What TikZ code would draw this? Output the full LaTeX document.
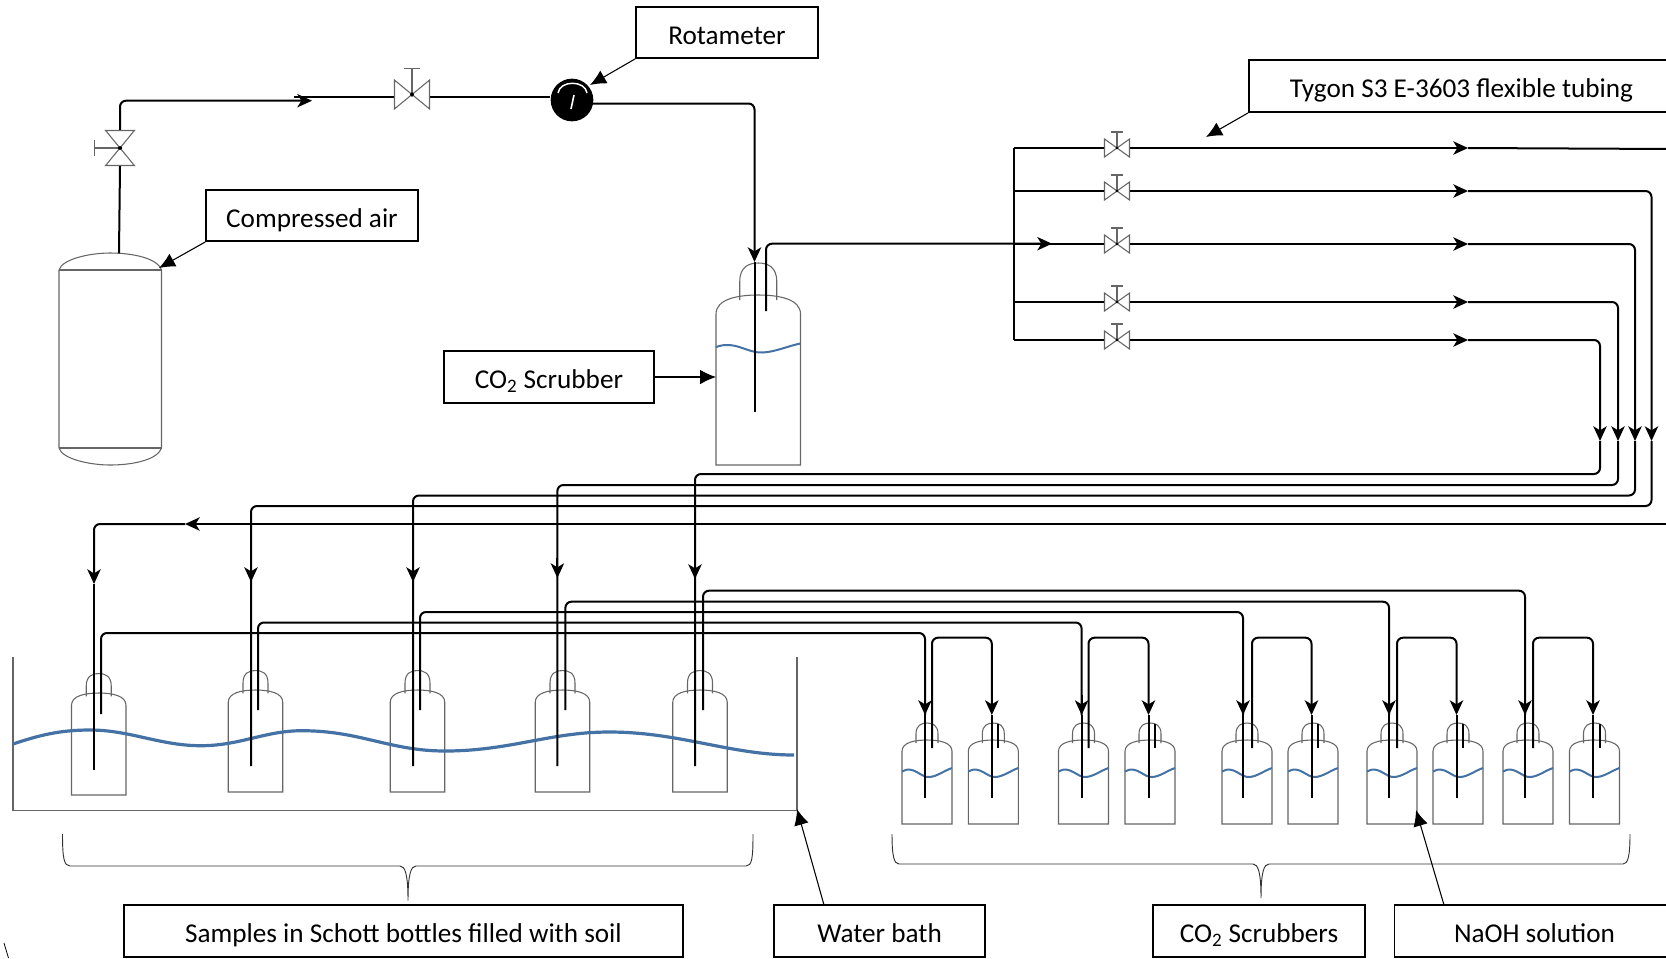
\documentclass[tikz,border=0pt]{standalone}
\usepackage{fontspec}
\setmainfont{Carlito}
\usetikzlibrary{arrows.meta}
\definecolor{waterblue}{RGB}{68,114,164}
\tikzset{
  lab/.style 2 args={draw,line width=1.4pt,inner sep=0pt,align=center,
    minimum width=#1*.75pt,minimum height=#2*.75pt,text height=20.4pt,text depth=3pt,
    font=\fontsize{20.4}{24}\selectfont},
  callout/.style={line width=.8pt,-{Latex[length=12pt,width=11pt]}},
  pipe/.style={line width=1.5pt,rounded corners=4.5pt},
  pipearr/.style={pipe,-{Stealth[length=11pt,width=10pt,inset=3pt]}},
  glass/.style={draw=black!60,line width=.8pt},
  water/.style={draw=waterblue,line width=1.5pt},
  brace/.style={draw=black!80,line width=.7pt},
  gauge/.style={circle,fill=black,inner sep=0pt,minimum size=32pt},
  valve/.pic={
    \draw[glass] (-12.5,-9) -- (12.5,9) -- (12.5,-9) -- (-12.5,9) -- cycle;
    \draw[glass] (0,0) -- (0,-16) (-6,-16) -- (6,-16);
    \fill (0,0) circle (1pt);
    \coordinate (-w) at (-13,0);
    \coordinate (-e) at (13,0);
  },
}
\newcommand{\flask}[6]{
  \draw[glass] ({#1-#2},#4) -- ({#1-#2},{#3+.45*#2}) .. controls ({#1-#2},{#3+.1*#2}) and ({#1-.5*#2},#3) .. (#1,#3)
    .. controls ({#1+.5*#2},#3) and ({#1+#2},{#3+.1*#2}) .. ({#1+#2},{#3+.45*#2}) -- ({#1+#2},#4) -- cycle;
  \draw[glass] ({#1-#5},{#3+.12*#2}) -- ({#1-#5},{#6+#5}) .. controls ({#1-#5},{#6+.2*#5}) and ({#1-.5*#5},#6) .. (#1,#6)
    .. controls ({#1+.5*#5},#6) and ({#1+#5},{#6+.2*#5}) .. ({#1+#5},{#6+#5}) -- ({#1+#5},{#3+.12*#2});
}
\newcommand{\ripple}[3]{
  \draw[water] ({#1-#2},#3) .. controls ({#1-.55*#2},{#3-7}) and ({#1-.25*#2},{#3+6.5}) .. ({#1+.1*#2},{#3+5.5})
    .. controls ({#1+.4*#2},{#3+5}) and ({#1+.7*#2},{#3-1}) .. ({#1+#2},{#3-3.5});
}
\begin{document}
\begin{tikzpicture}[x=.75pt,y=-.75pt]
  \path[use as bounding box,clip] (0,0) rectangle (1666,958);

  % labels
  \node[lab={182}{51}] (rota) at (727,32.5) {Rotameter};
  \node[lab={211.5}{51}] (air) at (312,215.5) {Compressed air};
  \node[lab={210}{52}] (scrub) at (549,377) {CO\textsubscript{2} Scrubber};
  \node[lab={425}{52}] (tygon) at (1461.5,86) {Tygon S3 E-3603 flexible tubing};
  \node[lab={559}{52}] (samples) at (403.5,931) {Samples in Schott bottles filled with soil};
  \node[lab={211}{52}] (bath) at (879.5,931) {Water bath};
  \node[lab={211.5}{52}] (scrubs) at (1259,931) {CO\textsubscript{2} Scrubbers};
  \node[lab={280}{52}] (naoh) at (1534.5,931) {NaOH solution};

  % air cylinder
  \draw[glass] (59,270) .. controls (62,259) and (90,253) .. (110,253) .. controls (135,253) and (158,259) .. (161.5,270)
    -- (161.5,448) .. controls (158,459) and (135,465) .. (110,465) .. controls (90,465) and (62,459) .. (59,448) -- cycle;
  \draw[glass] (59,270) -- (161.5,270) (59,448) -- (161.5,448);

  % bath and soil bottles
  \draw[glass] (13,657) -- (13,810.5) -- (797,810.5) -- (797,657);
  \foreach \c/\t in {98.75/693,255.5/690,417.5/690,562.5/690,700/690}{
    \flask{\c}{27.25}{\t}{\t+102}{12.5}{\t-19.5}
  }
  \draw[water,line width=2.4pt] (13,744) .. controls (40,735) and (60,730) .. (90,730) .. controls (130,730) and (160,745.7) .. (201,745.7)
    .. controls (240,745.7) and (265,730.7) .. (302,730.7) .. controls (360,730.7) and (390,751) .. (445,751)
    .. controls (510,751) and (550,732) .. (609,732) .. controls (680,732) and (730,755) .. (794,755);

  % first scrubber
  \flask{758.25}{42.25}{295}{465}{18.5}{263}
  \ripple{758.25}{42.25}{347}

  % rotameter line
  \pic[rotate=90,xscale=1.4,yscale=1.6] (vin) at (120,148) {valve};
  \pic[xscale=1.4,yscale=1.6] (vrot) at (412,94.5) {valve};
  \node[gauge] (rm) at (572,100) {};
  \draw[white,line width=1.1pt] (558,93) .. controls (560,80) and (585,80) .. (587,93);
  \draw[white,line width=1.2pt] (574,95) -- (571,109);
  \coordinate (cyl) at (119,253);
  \coordinate (ain) at (312,100.7);
  \coordinate (pin) at (294,97.3);
  \coordinate (rmout) at (593,103.5);
  \coordinate (tin) at (754.5,262);
  \coordinate (din) at (754.5,412);
  \coordinate (oin) at (766,311);
  \coordinate (aman) at (1052,243.7);
  \draw[pipe] (cyl) -- (vin-w);
  \draw[pipearr] (vin-e) |- (ain);
  \draw[pipe] (pin) -- (pin -| vrot-w);
  \draw[pipe] (pin -| vrot-e) -- (pin -| rm.west);
  \draw[pipearr] (rmout) -| (tin);
  \draw[pipe] (tin) -- (din);
  \draw[pipearr] (oin) |- (aman);

  % manifold
  \draw[pipe,rounded corners=0pt] (1014,147.5) -- (1014,340);
  \foreach \n/\y in {a/148,b/191,c/244,d/302,e/340}{
    \pic (v\n) at (1117,\y) {valve};
    \coordinate (m\n) at (1014,\y);
    \coordinate (a\n) at (1468,\y);
    \draw[pipe] (m\n) -- (v\n-w);
    \draw[pipearr] (v\n-e) -- (a\n);
  }
  \coordinate (aout) at (1672,149);
  \draw[pipe] (aa) -- (aout);

  % lines down to the soil bottles
  \foreach \n/\xr/\yh/\xs/\ya/\de in {e/1600/474/695/579/766,d/1618/485/557.4/578/766,c/1635/495.5/413/582/766,b/1651.5/506/251/582/766}{
    \coordinate (r\n) at (\xr,441);
    \coordinate (h\n) at (\xs,\yh);
    \coordinate (t\n) at (\xs,\ya);
    \coordinate (d\n) at (\xs,\de);
    \draw[pipearr] (a\n) -| (r\n);
    \draw[pipe] (r\n) |- (h\n) -- (t\n) -- (d\n);
    \draw[pipearr] (\xs,\ya-20) -- (t\n);
  }
  \coordinate (rin) at (1672,524);
  \coordinate (aret) at (185,524);
  \coordinate (tone) at (94,584);
  \coordinate (done) at (94,770);
  \draw[pipearr] (rin) -- (aret);
  \draw[pipearr] (aret) -| (tone);
  \draw[pipe] (tone) -- (done);

  % scrubber pairs
  \foreach \i/\xo/\yo/\ho/\xi/\cl/\cr in {1/101/714/633/925/927/993.3,2/258/710/622.5/1081.6/1083.5/1150,
      3/420/710/612/1243/1247/1313,4/565.4/710/601.7/1389/1392/1458,5/703/710/590.7/1525/1528/1594.5}{
    \flask{\cl}{25}{740}{824}{11}{723}
    \flask{\cr}{25}{740}{824}{11}{723}
    \ripple{\cl}{25}{771.5}
    \ripple{\cr}{25}{771.5}
    \coordinate (s\i) at (\xo,\yo);
    \coordinate (k\i) at (\xi,\ho);
    \coordinate (p\i) at (\xi,715);
    \coordinate (q\i) at (\xi,798);
    \draw[pipe] (s\i) |- (k\i) -- (p\i);
    \draw[pipearr] (\xi,695) -- (p\i);
    \draw[pipe] (p\i) -- (q\i);
    \coordinate (o\i) at ({\cl+5},748);
    \coordinate (u\i) at ({\cl+5},637.7);
    \coordinate (w\i) at ({\cr-1.5},715);
    \coordinate (y\i) at ({\cr-1.5},798);
    \draw[pipearr] (o\i) |- (w\i |- u\i) -- (w\i);
    \draw[pipe] (w\i) -- (y\i);
    \draw[pipe] ({\cr+5},724) -- ({\cr+5},748);
  }

  % braces
  \draw[brace] (62.5,834) .. controls (62.5,858) and (64,866) .. (70,866) -- (400,866) .. controls (405,866) and (408,874) .. (408,900.5)
    .. controls (408,874) and (411,866) .. (416,866) -- (746,866) .. controls (752,866) and (753,858) .. (753,834);
  \draw[brace] (892,834) .. controls (892,856) and (894,864) .. (899,864) -- (1253,864) .. controls (1258,864) and (1261,872) .. (1261,898)
    .. controls (1261,872) and (1264,864) .. (1269,864) -- (1623,864) .. controls (1628,864) and (1630,856) .. (1630,834);

  % callouts
  \coordinate (trota) at (590,85);
  \coordinate (tair) at (159,268);
  \coordinate (tscrub) at (716,377);
  \coordinate (ttygon) at (1206,137);
  \coordinate (tbath) at (797,809);
  \coordinate (tnaoh) at (1416,810);
  \draw[callout] (rota.south west) -- (trota);
  \draw[callout] (air.south west) -- (tair);
  \draw[callout] (scrub) ++(105,0) -- (tscrub);
  \draw[callout] (tygon.south west) -- (ttygon);
  \draw[callout] (824,905) -- (tbath);
  \draw[callout] (1444,905) -- (tnaoh);

  \draw[line width=.6pt] (4,943) -- (8.5,958);
\end{tikzpicture}
\end{document}
